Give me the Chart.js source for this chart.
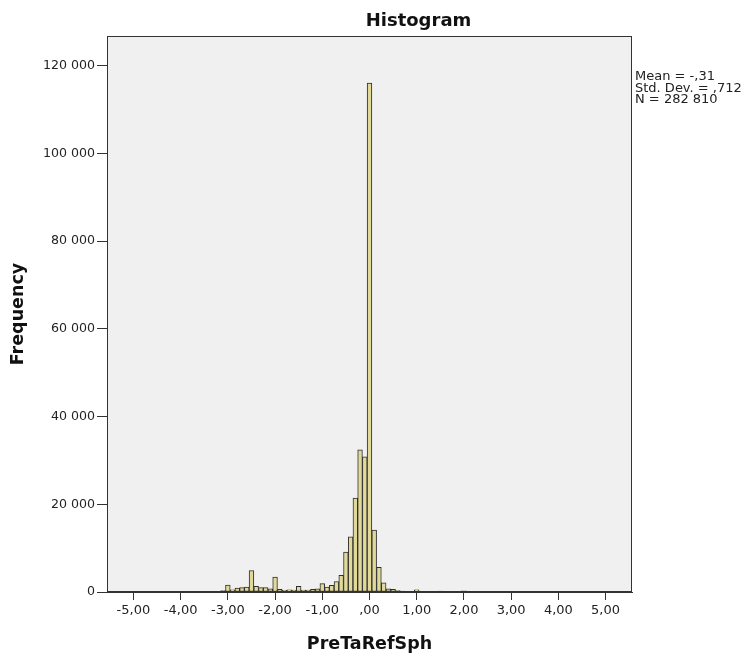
<!DOCTYPE html>
<html>
<head>
<meta charset="utf-8">
<title>Histogram</title>
<script src="https://cdn.jsdelivr.net/npm/chart.js@4.4.1/dist/chart.umd.min.js"></script>
<style>
    html, body { margin: 0; padding: 0; background: #ffffff; }
    #wrap { position: relative; width: 749px; height: 655px; }
    #title {
        position: absolute; left: 107px; width: 623px; top: 11px;
        text-align: center; font-family: "DejaVu Sans", sans-serif; font-weight: bold;
        font-size: 18px; line-height: 18px; color: #111;
    }
    #stats {
        position: absolute; left: 635px; top: 70px;
        font-family: "DejaVu Sans", sans-serif; font-size: 13px; line-height: 11.5px; color: #222;
        white-space: pre;
    }
</style>
</head>
<body>
<div id="wrap">
    <canvas id="myChart" width="749" height="655"></canvas>
    <div id="title">Histogram</div>
    <div id="stats">Mean = -,31
Std. Dev. = ,712
N = 282 810</div>
</div>
<script>
var binCenters = [
    -5.0, -4.9, -4.8, -4.7, -4.6, -4.5, -4.4, -4.3, -4.2, -4.1,
    -4.0, -3.9, -3.8, -3.7, -3.6, -3.5, -3.4, -3.3, -3.2, -3.1,
    -3.0, -2.9, -2.8, -2.7, -2.6, -2.5, -2.4, -2.3, -2.2, -2.1,
    -2.0, -1.9, -1.8, -1.7, -1.6, -1.5, -1.4, -1.3, -1.2, -1.1,
    -1.0, -0.9, -0.8, -0.7, -0.6, -0.5, -0.4, -0.3, -0.2, -0.1,
    0.0, 0.1, 0.2, 0.3, 0.4, 0.5, 0.6, 0.7, 0.8, 0.9,
    1.0, 1.1, 1.2, 1.3, 1.4, 1.5, 1.6, 1.7, 1.8, 1.9,
    2.0, 2.1, 2.2, 2.3, 2.4, 2.5, 2.6, 2.7, 2.8, 2.9,
    3.0, 3.1, 3.2, 3.3, 3.4, 3.5, 3.6, 3.7, 3.8, 3.9,
    4.0, 4.1, 4.2, 4.3, 4.4, 4.5, 4.6, 4.7, 4.8, 4.9,
    5.0
];
var frequencies = [
    120, 20, 10, 10, 10, 20, 10, 10, 20, 30,
    130, 30, 40, 50, 60, 160, 100, 150, 180, 300,
    1600, 500, 900, 1000, 1100, 4900, 1300, 1000, 1000, 700,
    3400, 600, 400, 500, 450, 1300, 450, 450, 600, 700,
    1900, 1100, 1500, 2400, 3800, 9100, 12600, 21400, 32400, 30800,
    116000, 14100, 5600, 2100, 700, 600, 300, 200, 150, 150,
    500, 90, 80, 70, 80, 200, 60, 50, 50, 60,
    250, 40, 30, 30, 40, 150, 30, 20, 20, 30,
    120, 20, 20, 20, 20, 60, 10, 10, 10, 10,
    60, 10, 10, 10, 10, 30, 10, 10, 10, 10,
    40
];
var xTickValues = [-5, -4, -3, -2, -1, 0, 1, 2, 3, 4, 5];
var xTickLabels = ['-5,00', '-4,00', '-3,00', '-2,00', '-1,00', ',00', '1,00', '2,00', '3,00', '4,00', '5,00'];
var yTickValues = [0, 20000, 40000, 60000, 80000, 100000, 120000];
var yTickLabels = ['0', '20 000', '40 000', '60 000', '80 000', '100 000', '120 000'];

var FONT = '"DejaVu Sans", sans-serif';
var AXIS_COLOR = '#333333';

function buildPoints() {
    var points = [];
    for (var i = 0; i < binCenters.length; i++) {
        points.push({x: binCenters[i], y: frequencies[i]});
    }
    return points;
}

function setTicks(values) {
    return function(scale) {
        scale.ticks = values.map(function(v) { return {value: v}; });
    };
}

function labelFor(values, labels) {
    return function(value) {
        var idx = values.indexOf(value);
        return idx >= 0 ? labels[idx] : '';
    };
}

var plotFrame = {
    id: 'plotFrame',
    beforeDraw: function(chart) {
        var ctx = chart.ctx;
        var a = chart.chartArea;
        ctx.save();
        ctx.fillStyle = '#ffffff';
        ctx.fillRect(0, 0, chart.width, chart.height);
        ctx.fillStyle = '#f0f0f0';
        ctx.fillRect(a.left, a.top, a.right - a.left, a.bottom - a.top);
        ctx.restore();
    },
    afterDraw: function(chart) {
        var ctx = chart.ctx;
        var a = chart.chartArea;
        ctx.save();
        ctx.strokeStyle = AXIS_COLOR;
        ctx.lineWidth = 1;
        ctx.strokeRect(Math.round(a.left) + 0.5, Math.round(a.top) + 0.5,
            Math.round(a.right - a.left) - 1, Math.round(a.bottom - a.top) - 1);
        ctx.restore();
    }
};

function buildChart() {
    var ctx = document.getElementById('myChart');
    return new Chart(ctx, {
        type: 'bar',
        data: {
            datasets: [{
                label: 'PreTaRefSph',
                data: buildPoints(),
                backgroundColor: '#e0d99a',
                borderColor: '#2e2e2e',
                borderWidth: 1,
                borderSkipped: false,
                categoryPercentage: 1.0,
                barPercentage: 1.0
            }]
        },
        options: {
            responsive: false,
            animation: false,
            layout: {padding: {top: 36, right: 117, bottom: 0, left: 0}},
            plugins: {
                legend: {display: false},
                tooltip: {enabled: false},
                title: {display: false}
            },
            scales: {
                x: {
                    type: 'linear',
                    min: -5.56,
                    max: 5.56,
                    offset: false,
                    afterBuildTicks: setTicks(xTickValues),
                    afterFit: function(scale) { scale.height = 63; },
                    grid: {offset: false, drawOnChartArea: false, drawTicks: true, tickLength: 8, tickColor: AXIS_COLOR},
                    border: {display: true, color: AXIS_COLOR},
                    ticks: {
                        autoSkip: false,
                        maxRotation: 0,
                        padding: 3,
                        color: '#222222',
                        font: {family: FONT, size: 13},
                        callback: labelFor(xTickValues, xTickLabels)
                    },
                    title: {
                        display: true,
                        text: 'PreTaRefSph',
                        color: '#111111',
                        font: {family: FONT, size: 17.5, weight: 'bold'},
                        padding: {top: 0, bottom: 0}
                    }
                },
                y: {
                    min: 0,
                    max: 126750,
                    afterBuildTicks: setTicks(yTickValues),
                    afterFit: function(scale) { scale.width = 107; },
                    grid: {drawOnChartArea: false, drawTicks: true, tickLength: 10, tickColor: AXIS_COLOR},
                    border: {display: true, color: AXIS_COLOR},
                    ticks: {
                        padding: 2,
                        color: '#222222',
                        font: {family: FONT, size: 12.6},
                        callback: labelFor(yTickValues, yTickLabels)
                    },
                    title: {
                        display: true,
                        text: 'Frequency',
                        color: '#111111',
                        font: {family: FONT, size: 17.5, weight: 'bold'},
                        padding: {top: 8, bottom: 0}
                    }
                }
            }
        },
        plugins: [plotFrame]
    });
}

buildChart();
</script>
</body>
</html>
